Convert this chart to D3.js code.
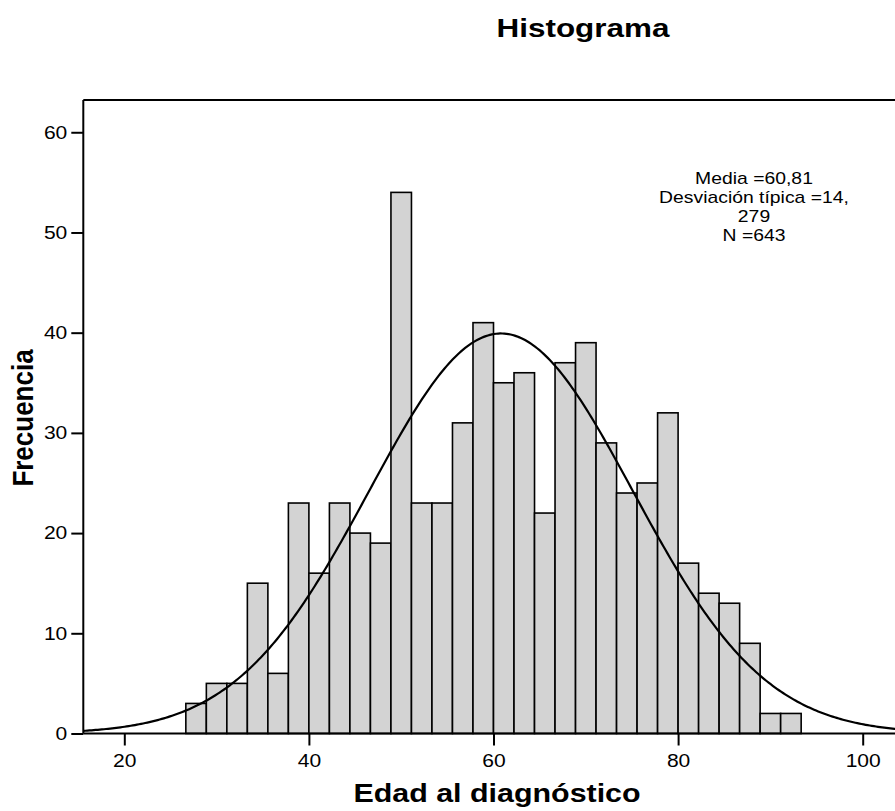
<!DOCTYPE html>
<html>
<head>
<meta charset="utf-8">
<script src="https://cdn.jsdelivr.net/npm/d3@7"></script>
<style>
  html, body { margin: 0; padding: 0; background: #fff; }
  svg { display: block; font-family: "Liberation Sans", Arial, Helvetica, sans-serif; }
</style>
</head>
<body>
<div id="chart"></div>
<script>
// ---- Data ----
const counts = [3, 5, 5, 15, 6, 23, 16, 23, 20, 19, 54, 23, 23, 31, 41, 35, 36, 22, 37, 39, 29, 24, 25, 32, 17, 14, 13, 9, 2, 2];
const binStart = 26.667;
const binWidth = 2.2222;
const xTicks = [20, 40, 60, 80, 100];
const yTicks = [0, 10, 20, 30, 40, 50, 60];
const statMean = 60.81;
const statSd = 14.279;
const statN = 643;
const annotationLines = ["Media =60,81", "Desviación típica =14,", "279", "N =643"];
const chartTitle = "Histograma";
const xTitle = "Edad al diagnóstico";
const yTitle = "Frecuencia";

// ---- Layout ----
const W = 895, H = 811;
const SX = 1.17; // horizontal stretch of text as in the reference
const svg = d3.select("#chart").append("svg").attr("width", W).attr("height", H);
svg.append("rect").attr("width", W).attr("height", H).attr("fill", "#fff");

const x = d3.scaleLinear().domain([20, 100]).range([124.3, 862.7]);
const y = d3.scaleLinear().domain([0, 63.22]).range([733.5, 100]);
const plotLeft = 83.3, plotTop = 100, plotBottom = 733.5, plotRight = 909;

// bars
svg.append("g").selectAll("rect").data(counts).join("rect")
  .attr("x", (d, i) => x(binStart + i * binWidth))
  .attr("width", (d, i) => x(binStart + (i + 1) * binWidth) - x(binStart + i * binWidth))
  .attr("y", d => y(d))
  .attr("height", d => y(0) - y(d))
  .attr("fill", "#d3d3d3")
  .attr("stroke", "#000")
  .attr("stroke-width", 1.6);

// normal curve
const xMin = x.invert(plotLeft), xMax = x.invert(plotRight);
const curvePts = d3.range(0, 401).map(k => {
  const v = xMin + (xMax - xMin) * k / 400;
  const z = (v - statMean) / statSd;
  return [v, statN * binWidth / (statSd * Math.sqrt(2 * Math.PI)) * Math.exp(-0.5 * z * z)];
});
svg.append("path").datum(curvePts)
  .attr("d", d3.line().x(d => x(d[0])).y(d => y(d[1])))
  .attr("fill", "none").attr("stroke", "#000").attr("stroke-width", 2.2);

// frame top
svg.append("line").attr("x1", plotLeft).attr("x2", plotRight).attr("y1", plotTop).attr("y2", plotTop)
  .attr("stroke", "#000").attr("stroke-width", 2);
// bottom baseline
svg.append("line").attr("x1", plotLeft).attr("x2", plotRight).attr("y1", plotBottom).attr("y2", plotBottom)
  .attr("stroke", "#000").attr("stroke-width", 2);

// axes
const yAxis = svg.append("g").attr("transform", `translate(${plotLeft},0)`)
  .call(d3.axisLeft(y).tickValues(yTicks).tickFormat(d3.format("d")).tickSize(12).tickSizeOuter(0).tickPadding(4));
yAxis.select(".domain").attr("d", `M0,${plotTop}V${plotBottom}`);
const xAxis = svg.append("g").attr("transform", `translate(0,${plotBottom})`)
  .call(d3.axisBottom(x).tickValues(xTicks).tickFormat(d3.format("d")).tickSize(12).tickSizeOuter(0).tickPadding(9));
xAxis.select(".domain").remove();
[yAxis, xAxis].forEach(g => {
  g.selectAll("path, line").attr("stroke", "#000").attr("stroke-width", 2);
  g.selectAll("text")
    .attr("font-size", 18)
    .attr("fill", "#000")
    .attr("font-family", "Liberation Sans, Arial, sans-serif")
    .each(function() {
      const sel = d3.select(this);
      const tx = +sel.attr("x") || 0;
      sel.attr("x", 0).attr("transform", `translate(${tx},0) scale(${SX},1)`);
    });
});

// helper for stretched text
function addText(txt, px, py, size, weight, anchor, sx, rot) {
  return svg.append("text")
    .attr("transform", `translate(${px},${py}) scale(${sx},1)` + (rot ? ` rotate(${rot})` : ""))
    .attr("text-anchor", anchor)
    .attr("font-size", size)
    .attr("font-weight", weight)
    .attr("fill", "#000")
    .text(txt);
}

// titles
addText(chartTitle, 583, 36.7, 26, "bold", "middle", 1.21);
addText(xTitle, 497, 801.7, 26, "bold", "middle", SX);
addText(yTitle, 33, 418, 26, "bold", "middle", SX, -90);

// annotation
annotationLines.forEach((t, i) => addText(t, 754, 184 + i * 19, 16, "normal", "middle", 1.21));
</script>
</body>
</html>
